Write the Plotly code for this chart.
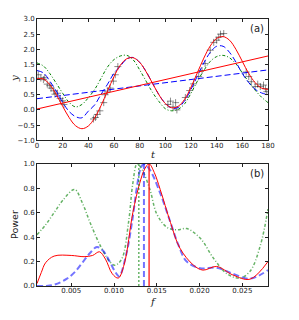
import plotly.graph_objects as go

# ---------- panel (a) data ----------
t_grid = [0, 5, 10, 15, 20, 25, 30, 35, 40, 45, 50, 55, 60, 65, 70, 75, 80, 85, 90,
          95, 100, 105, 110, 115, 120, 125, 130, 135, 140, 145, 150, 155, 160, 165,
          170, 175, 180]
y_red = [1.03, 1.02, 0.83, 0.51, 0.12, -0.25, -0.52, -0.62, -0.53, -0.26, 0.15, 0.63,
         1.10, 1.48, 1.69, 1.72, 1.57, 1.26, 0.88, 0.50, 0.21, 0.07, 0.12, 0.35, 0.75,
         1.23, 1.71, 2.11, 2.36, 2.42, 2.30, 2.00, 1.60, 1.20, 0.90, 0.72, 0.68]
y_blue = [1.30, 1.22, 0.95, 0.62, 0.25, -0.05, -0.22, -0.26, -0.04, 0.17, 0.52, 0.85,
          1.21, 1.45, 1.68, 1.73, 1.57, 1.27, 0.88, 0.50, 0.22, 0.06, 0.08, 0.30, 0.68,
          1.12, 1.55, 1.90, 2.10, 2.10, 1.90, 1.58, 1.20, 0.90, 0.68, 0.56, 0.50]
y_green = [1.55, 1.45, 1.20, 0.88, 0.55, 0.25, 0.10, 0.18, 0.40, 0.68, 1.05, 1.42,
           1.66, 1.78, 1.80, 1.65, 1.32, 0.95, 0.58, 0.28, 0.04, -0.03, 0.02, 0.20,
           0.55, 0.95, 1.30, 1.60, 1.76, 1.80, 1.72, 1.52, 1.22, 0.92, 0.65, 0.42, 0.24]
trend_t = [0, 180]
trend_red = [0.03, 1.78]
trend_blue = [0.37, 1.32]

obs_t = [1, 3, 5, 6, 8, 10, 11, 13, 14, 16, 18, 20, 21,
         44, 45.5, 47, 49, 52, 53, 55, 57, 59.5, 61, 63,
         102, 104, 106, 108, 109,
         115.6, 119, 122, 126, 128.6, 131, 135, 137.7, 140, 141.6, 143, 145.5,
         163, 165, 167, 170, 172, 174, 176.5, 178, 179]
obs_y = [1.16, 1.05, 1.00, 1.06, 0.85, 0.80, 0.72, 0.63, 0.52, 0.55, 0.38, 0.30, 0.18,
         -0.30, -0.25, -0.15, -0.03, 0.24, 0.50, 0.62, 0.72, 0.95, 1.16, 1.43,
         0.18, 0.29, 0.10, 0.24, 0.00,
         0.41, 0.64, 0.86, 1.10, 1.30, 1.53, 1.97, 2.23, 2.30, 2.40, 2.50, 2.52,
         1.25, 1.10, 0.93, 0.77, 0.85, 0.77, 0.82, 0.70, 0.60]

# ---------- panel (b) data ----------
f_red = [0.001, 0.0015, 0.002, 0.003, 0.005, 0.0065, 0.0075, 0.0083, 0.009, 0.0098,
         0.0105, 0.0112, 0.0122, 0.0130, 0.0136, 0.0141, 0.0147, 0.0154, 0.0166,
         0.0177, 0.0193, 0.0204, 0.0220, 0.0239, 0.0259, 0.0280]
p_red = [0.02, 0.11, 0.19, 0.245, 0.25, 0.24, 0.25, 0.28, 0.22, 0.10,
         0.065, 0.18, 0.60, 0.84, 0.96, 1.00, 0.93, 0.79, 0.52,
         0.31, 0.17, 0.13, 0.16, 0.09, 0.056, 0.20]
f_blue = [0.001, 0.002, 0.003, 0.0045, 0.0055, 0.0064, 0.0072, 0.0080, 0.0087, 0.0095,
          0.0101, 0.0106, 0.0114, 0.0121, 0.0127, 0.0131, 0.0135, 0.0142, 0.0154,
          0.0166, 0.0175, 0.0185, 0.0201, 0.0220, 0.0239, 0.0259, 0.0280]
p_blue = [0.0, 0.0, 0.01, 0.06, 0.12, 0.20, 0.27, 0.32, 0.29, 0.20,
          0.12, 0.08, 0.25, 0.52, 0.82, 0.96, 1.00, 0.95, 0.76,
          0.52, 0.34, 0.20, 0.145, 0.15, 0.10, 0.06, 0.13]
f_green = [0.001, 0.002, 0.003, 0.004, 0.0054, 0.0063, 0.0072, 0.0084, 0.0095, 0.0101,
           0.0109, 0.0117, 0.0122, 0.0127, 0.0133, 0.0142, 0.0150, 0.0162, 0.0174,
           0.0185, 0.0201, 0.0216, 0.0232, 0.0247, 0.0259, 0.0271, 0.0280]
p_green = [0.42, 0.50, 0.60, 0.70, 0.79, 0.68, 0.52, 0.33, 0.20, 0.17,
           0.22, 0.52, 0.84, 1.00, 0.95, 0.79, 0.59, 0.48, 0.46,
           0.47, 0.39, 0.23, 0.10, 0.065, 0.12, 0.33, 0.63]
f_peak_red = 0.0141
f_peak_blue = 0.0135
f_peak_green = 0.0129

RED = "#ff0000"
BLUE = "#0000ff"
GREEN = "#008000"
GDASH = "3px,2px,1px,2px"

fig = go.Figure()

# panel (a)
fig.add_trace(go.Scatter(x=obs_t, y=obs_y, mode="markers", xaxis="x", yaxis="y",
                         marker=dict(symbol="cross-thin", size=5,
                                     line=dict(color="rgba(0,0,0,0.45)", width=1)),
                         showlegend=False))
fig.add_trace(go.Scatter(x=t_grid, y=y_green, mode="lines", line_shape="spline",
                         line=dict(color=GREEN, width=1, dash=GDASH), xaxis="x", yaxis="y",
                         showlegend=False))
fig.add_trace(go.Scatter(x=t_grid, y=y_blue, mode="lines", line_shape="spline",
                         line=dict(color=BLUE, width=1, dash="6px,3px"), xaxis="x", yaxis="y",
                         showlegend=False))
fig.add_trace(go.Scatter(x=trend_t, y=trend_blue, mode="lines",
                         line=dict(color=BLUE, width=1, dash="6px,3px"), xaxis="x", yaxis="y",
                         showlegend=False))
fig.add_trace(go.Scatter(x=t_grid, y=y_red, mode="lines", line_shape="spline",
                         line=dict(color=RED, width=1), xaxis="x", yaxis="y",
                         showlegend=False))
fig.add_trace(go.Scatter(x=trend_t, y=trend_red, mode="lines",
                         line=dict(color=RED, width=1), xaxis="x", yaxis="y",
                         showlegend=False))

# panel (b)
fig.add_trace(go.Scatter(x=f_green, y=p_green, mode="lines", line_shape="spline",
                         line=dict(color="rgba(0,128,0,0.6)", width=1.5, dash=GDASH),
                         xaxis="x2", yaxis="y2", showlegend=False))
fig.add_trace(go.Scatter(x=f_blue, y=p_blue, mode="lines", line_shape="spline",
                         line=dict(color="rgba(0,0,255,0.55)", width=2, dash="6px,3px"),
                         xaxis="x2", yaxis="y2", showlegend=False))
fig.add_trace(go.Scatter(x=f_red, y=p_red, mode="lines", line_shape="spline",
                         line=dict(color=RED, width=1),
                         xaxis="x2", yaxis="y2", showlegend=False))
fig.add_trace(go.Scatter(x=[f_peak_green, f_peak_green], y=[0, 1], mode="lines",
                         line=dict(color="rgba(0,128,0,0.6)", width=1.5, dash="2px,2px"),
                         xaxis="x2", yaxis="y2", showlegend=False))
fig.add_trace(go.Scatter(x=[f_peak_blue, f_peak_blue], y=[0, 1], mode="lines",
                         line=dict(color="rgba(0,0,255,0.55)", width=2, dash="6px,3px"),
                         xaxis="x2", yaxis="y2", showlegend=False))
fig.add_trace(go.Scatter(x=[f_peak_red, f_peak_red], y=[0, 1], mode="lines",
                         line=dict(color=RED, width=1.2),
                         xaxis="x2", yaxis="y2", showlegend=False))

axis_common = dict(showline=True, linecolor="#222", linewidth=1, mirror="ticks",
                   ticks="inside", ticklen=3, tickcolor="#222", showgrid=False,
                   zeroline=False, tickfont=dict(size=7, color="#222"))
xstand = dict(ticklabelstandoff=-2)

# the page body has an 8px margin, so the figure is drawn 8px in from the corner
OFF = 8
W, H = 299 - OFF, 320 - OFF
L, R, T, B = 37 - OFF, 31, 15 - OFF, 34
pw, ph = W - L - R, H - T - B

fig.update_layout(
    width=W, height=H,
    margin=dict(l=L, r=R, t=T, b=B),
    paper_bgcolor="white", plot_bgcolor="white",
    font=dict(family="DejaVu Sans", color="#222"),
    xaxis=dict(domain=[0, 1], anchor="y", range=[0, 180],
               tickvals=[0, 20, 40, 60, 80, 100, 120, 140, 160, 180],
               **axis_common, **xstand),
    yaxis=dict(domain=[0.546, 1], anchor="x", range=[-1, 3],
               tickvals=[-1, -0.5, 0, 0.5, 1, 1.5, 2, 2.5, 3], tickformat=".1f", **axis_common),
    xaxis2=dict(domain=[0, 1], anchor="y2", range=[0.001, 0.028],
                tickvals=[0.005, 0.010, 0.015, 0.020, 0.025], tickformat=".3f",
                **axis_common, **xstand),
    yaxis2=dict(domain=[0, 0.4576], anchor="x2", range=[0, 1],
                tickvals=[0, 0.2, 0.4, 0.6, 0.8, 1.0], tickformat=".1f", **axis_common),
)


def px(x):  # page pixel -> paper x
    return (x - OFF - L) / pw


def py(y):  # page pixel -> paper y
    return (H - B - (y - OFF)) / ph


def label(text, x, y, size=10, family=None, angle=0, xa="center", ya="middle"):
    font = dict(size=size)
    if family:
        font["family"] = family
    fig.add_annotation(text=text, x=px(x), y=py(y), xref="paper", yref="paper",
                       xanchor=xa, yanchor=ya, showarrow=False, textangle=angle,
                       font=font)


label("(a)", 266, 17, xa="right", ya="top")
label("(b)", 266, 164, xa="right", ya="top")
label("<i>y</i>", 14, 76, family="DejaVu Serif", angle=-90)
label("<i>t</i>", 153, 153, family="DejaVu Serif")
label("Power", 15, 224, size=9.5, angle=-90)
label("<i>f</i>", 153, 302, family="DejaVu Serif")

fig.write_html("out.html")
